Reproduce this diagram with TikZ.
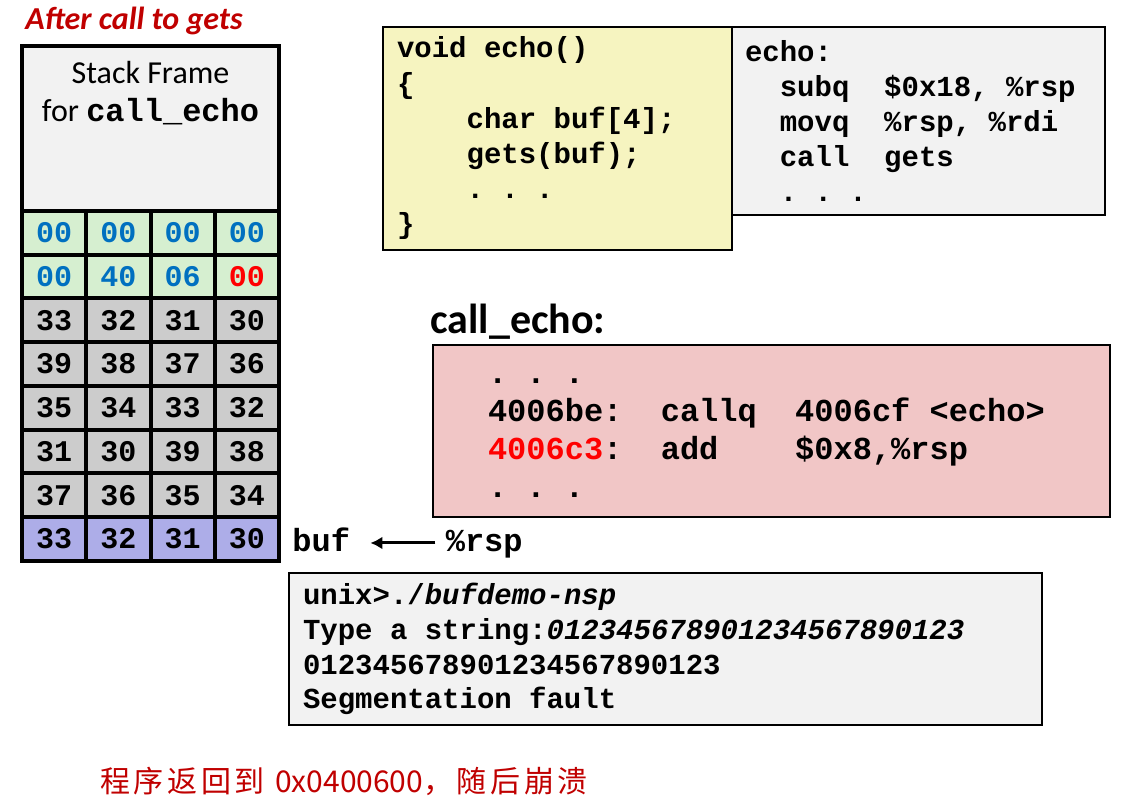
\documentclass[tikz,border=0pt]{standalone}
\usepackage{fontspec}
\setmainfont{Carlito}
\setsansfont{Carlito}
\setmonofont{Liberation Mono}
\newfontfamily\cjkfont{Noto Sans CJK SC}[LetterSpace=12]
\newfontfamily\cjkplain{Noto Sans CJK SC}
\newcommand\tsp{\hphantom{0}}
\usetikzlibrary{arrows.meta,positioning}
\definecolor{titleRed}{RGB}{192,0,0}
\definecolor{hexBlue}{RGB}{0,112,192}
\definecolor{hexRed}{RGB}{255,0,0}
\definecolor{frameGray}{RGB}{242,242,242}
\definecolor{cellGreen}{RGB}{214,239,208}
\definecolor{cellGray}{RGB}{204,204,204}
\definecolor{cellBlue}{RGB}{173,173,232}
\definecolor{srcYellow}{RGB}{246,244,192}
\definecolor{asmPink}{RGB}{241,198,198}

\begin{document}
\begin{tikzpicture}[x=0.5pt, y=-0.5pt, every node/.style={inner sep=0pt},
  cell/.style={draw, line width=2pt, minimum width=32.125pt, minimum height=21.875pt,
    font=\ttfamily\bfseries\fontsize{15pt}{15pt}\selectfont},
  codebox/.style={draw, line width=1.2pt, align=left, inner ysep=0pt,
    font=\ttfamily\bfseries\fontsize{14.5pt}{17.6pt}\selectfont},
  ptrlabel/.style={font=\ttfamily\bfseries\fontsize{16pt}{16pt}\selectfont, text height=12pt, text depth=3pt},
  ptr/.style={-{Latex[length=6pt,width=6.5pt]}, line width=1.5pt}]
\useasboundingbox (0,0) rectangle (1137,807);

\node[anchor=base west, text=titleRed, font=\sffamily\bfseries\itshape\fontsize{16pt}{16pt}\selectfont] (title) at (25,30) {After call to gets};

% stack frame of call_echo
\node[draw, line width=2pt, fill=frameGray, minimum width=128.5pt, minimum height=82.5pt] (frame) at (150.5,128.5) {};
\node[align=center, font=\sffamily\fontsize{16pt}{19pt}\selectfont] (framelbl) at (150.5,93) {Stack Frame\\for {\ttfamily\bfseries\fontsize{16pt}{19pt}\selectfont call\_echo}};

% bytes on the stack
\foreach \r/\rowfill/\rowink/\hA/\hB/\hC/\hD in {
  1/cellGreen/hexBlue/00/00/00/00,
  2/cellGreen/hexBlue/00/40/06/{\textcolor{hexRed}{00}},
  3/cellGray/black/33/32/31/30,
  4/cellGray/black/39/38/37/36,
  5/cellGray/black/35/34/33/32,
  6/cellGray/black/31/30/39/38,
  7/cellGray/black/37/36/35/34,
  8/cellBlue/black/33/32/31/30}
{
  \foreach \k/\v in {1/\hA,2/\hB,3/\hC,4/\hD}
    \node[cell, fill=\rowfill, text=\rowink] (c\r\k) at ({22+64.25*(\k-0.5)},{211+43.75*(\r-0.5)}) {\v};
}

% source and assembly of echo
\node[codebox, fill=srcYellow, text width=160.5pt, inner xsep=7pt, minimum height=111.5pt] (src) at (557.5,138.5)
  {void\tsp echo()\\\{\\\tsp\tsp\tsp\tsp char\tsp buf[4];\\\tsp\tsp\tsp\tsp gets(buf);\\\tsp\tsp\tsp\tsp.\tsp.\tsp.\\\}};
\node[codebox, fill=frameGray, text width=173.5pt, inner xsep=6.5pt, minimum height=94pt] (asm) at (918.5,121)
  {echo:\\\tsp\tsp subq\tsp\tsp\$0x18,\tsp\%rsp\\\tsp\tsp movq\tsp\tsp\%rsp,\tsp\%rdi\\\tsp\tsp call\tsp\tsp gets\\\tsp\tsp.\tsp.\tsp.};

% caller
\node[anchor=base west, font=\sffamily\bfseries\fontsize{21pt}{21pt}\selectfont] (callecho) at (430,334) {call\_echo:};
\node[codebox, fill=asmPink, text width=283.5pt, inner xsep=27.5pt, minimum height=86pt,
  font=\ttfamily\bfseries\fontsize{16pt}{19pt}\selectfont] (caller) at (771.5,431)
  {\rule{0pt}{10pt}.\tsp.\tsp.\\4006be:\tsp\tsp callq\tsp\tsp 4006cf\tsp<echo>\\\textcolor{hexRed}{4006c3}:\tsp\tsp add\tsp\tsp\tsp\tsp\$0x8,\%rsp\\.\tsp.\tsp.};

% stack pointer
\node[ptrlabel, anchor=base west] (buf) at (292,552) {buf};
\node[ptrlabel, base right=47.5pt of buf] (rsp) {\%rsp};
\draw[ptr, shorten >=10pt, shorten <=5pt] (rsp) -- (buf);

% run
\node[codebox, fill=frameGray, text width=362.5pt, inner xsep=7pt, minimum height=76pt,
  font=\ttfamily\bfseries\fontsize{14.5pt}{17.4pt}\selectfont] (term) at (665.5,649)
  {unix>./\textit{bufdemo-nsp}\\Type\tsp a\tsp string:\textit{012345678901234567890123}\\012345678901234567890123\\Segmentation\tsp fault};

\node[anchor=west, text=titleRed, font=\cjkfont\fontsize{15pt}{15pt}\selectfont] (crash) at (100,781)
  {程序返回到 {\cjkplain 0x0400600}，随后崩溃};
\end{tikzpicture}
\end{document}
